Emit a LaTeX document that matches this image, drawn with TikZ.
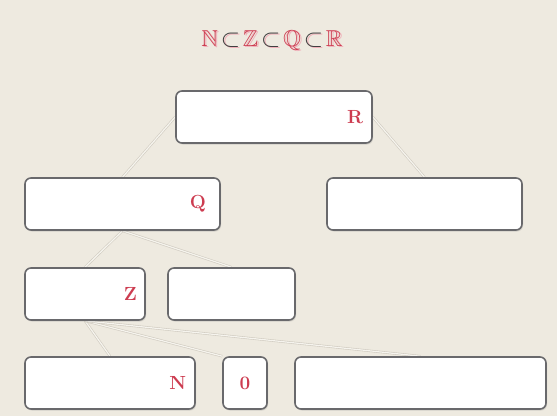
\documentclass[tikz,border=0pt]{standalone}
\usepackage{amsmath, amsfonts, amssymb}
\usetikzlibrary{positioning}
\usetikzlibrary{shadows}
\usetikzlibrary{calc}

\definecolor{paper}{RGB}{238,234,224}
\definecolor{boxline}{RGB}{105,105,108}
\definecolor{numred}{RGB}{205,60,80}
\definecolor{titleshade}{RGB}{240,175,185}
\definecolor{edgeout}{RGB}{208,203,192}
\definecolor{edgein}{RGB}{246,244,238}

\pgfdeclarelayer{bg}
\pgfdeclarelayer{edge}
\pgfsetlayers{bg,edge,main}

\newcommand{\setchain}[1]{\fontsize{23}{26}\selectfont
  $\textcolor{#1}{\mathbb{N}}\!\subset\!\textcolor{#1}{\mathbb{Z}}\!\subset\!
   \textcolor{#1}{\mathbb{Q}}\!\subset\!\textcolor{#1}{\mathbb{R}}$}

\begin{document}
\begin{tikzpicture}[x=1pt, y=-1pt,
    box/.style={draw=boxline, line width=1.6pt, fill=white, rounded corners=6pt,
      minimum height=52pt, inner xsep=10pt, inner ysep=0pt, align=right,
      font=\fontsize{19}{21}\selectfont\bfseries, text=numred,
      drop shadow={opacity=0.25, shadow xshift=1pt, shadow yshift=-1.5pt}},
    link/.style={draw=edgeout, line width=0.6pt, double=edgein, double distance=1.2pt}]
        % Fix the page size
        \useasboundingbox (0,0) rectangle (557,416);

        % Title with its soft shadow
        \node[text=titleshade] (titleshadow) at (273.5,41.5) {\setchain{titleshade}};
        \node[text=black!75] (title) at (272,40) {\setchain{numred}};

        % Top row
        \node[box, text width=178pt, inner xsep=9pt] (R) at (274,117) {R};

        % Second row
        \node[box, inner xsep=14pt, text width=167pt] (Q) at (122.5,204) {Q};
        \node[box, text width=175pt] (Rrest) at (424.5,204) {};

        % Third row
        \node[box, text width=104pt, inner xsep=8pt] (Z) at (85,294) {Z};
        \node[box, text width=107pt] (Zrest) at (231.5,294) {};

        % Bottom row
        \node[box, text width=152pt, inner xsep=9pt] (N) at (110,383) {N};
        \node[box, text width=24pt, align=center] (zero) at (245,383) {0};
        \node[box, text width=231pt] (Nrest) at (420.5,383) {};

        % Paper
        \begin{pgfonlayer}{bg}
          \fill[paper] (0,0) rectangle (557,416);
        \end{pgfonlayer}

        % Faint links between the sets
        \begin{pgfonlayer}{edge}
          \draw[link] (R.west) -- (Q.north);
          \draw[link] (R.east) -- (Rrest.north);
          \draw[link] (Q.south) -- (Z.north);
          \draw[link] (Q.south) -- (Zrest.north);
          \draw[link] (Z.south) -- (N.north);
          \draw[link] (Z.south) -- (zero.north west);
          \draw[link] (Z.south) -- (Nrest.north);
        \end{pgfonlayer}
      \end{tikzpicture}
\end{document}
